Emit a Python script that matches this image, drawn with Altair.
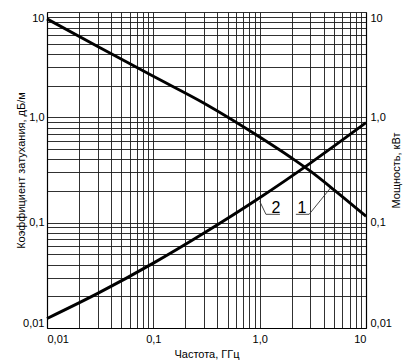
import altair as alt
import pandas as pd

# Curve "2" (rising) - attenuation coefficient, dB/m (left axis)
freq_rise = [0.01, 0.03, 0.1, 0.3, 1.0, 3.0, 10.0]
atten = [0.0123, 0.0213, 0.0413, 0.0798, 0.1725, 0.368, 0.89]

# Curve "1" (falling) - power, kW (right axis)
freq_fall = [0.01, 0.03, 0.1, 0.3, 1.0, 2.0, 3.0, 5.0, 10.0]
power = [8.6, 4.7, 2.45, 1.36, 0.65, 0.411, 0.308, 0.205, 0.115]

# leader lines for curve labels (data units)
leader_x = [1.0, 1.146, 1.55, 2.19, 2.92, 4.66]
leader_y = [0.16, 0.12, 0.12, 0.12, 0.12, 0.215]
leader_id = ["2", "2", "2", "1", "1", "1"]

label_text = ["2", "1"]
label_x = [1.42, 2.50]
label_y = [0.123, 0.123]

grid_values = [0.01, 0.02, 0.03, 0.04, 0.05, 0.06, 0.07, 0.08, 0.09,
               0.1, 0.2, 0.3, 0.4, 0.5, 0.6, 0.7, 0.8, 0.9,
               1, 2, 3, 4, 5, 6, 7, 8, 9, 10]
decade_expr = ("datum.value == 0.01 ? '0,01' : datum.value == 0.1 ? '0,1' : "
               "datum.value == 1 ? '1,0' : datum.value == 10 ? '10' : ''")

FONT = "Liberation Sans"

rise_df = pd.DataFrame({"f": freq_rise, "v": atten})
fall_df = pd.DataFrame({"f": freq_fall, "v": power})
lead_df = pd.DataFrame({"f": leader_x, "v": leader_y, "id": leader_id})
lab_df = pd.DataFrame({"f": label_x, "v": label_y, "t": label_text})

xscale = alt.Scale(type="log", domain=[0.01, 10], nice=False)
yscale = alt.Scale(type="log", domain=[0.01, 10], nice=False)

xaxis = alt.Axis(values=grid_values, labelExpr=decade_expr, labelOverlap=False,
                 grid=True, gridColor="#1a1a1a", gridWidth=0.9, gridOpacity=1,
                 ticks=False, domain=True, domainColor="black", domainWidth=1.2,
                 labelPadding=5, labelFontSize=11, labelColor="black",
                 title="Частота, ГГц", titleFontSize=11, titleFontWeight="normal",
                 titleColor="black", titlePadding=4, labelFont=FONT, titleFont=FONT)

yaxis_left = alt.Axis(values=grid_values, labelExpr=decade_expr, labelOverlap=False,
                      labelFlush=True, grid=True, gridColor="#1a1a1a", gridWidth=0.9,
                      gridOpacity=1, ticks=False, domain=True, domainColor="black",
                      domainWidth=1.2, labelPadding=3, labelFontSize=11,
                      labelColor="black", orient="left",
                      title="Коэффициент затухания, дБ/м", titleFontSize=11,
                      titleFontWeight="normal", titleColor="black",
                      titleX=-26, titleBaseline="middle",
                      labelFont=FONT, titleFont=FONT)

yaxis_right = alt.Axis(values=grid_values, labelExpr=decade_expr, labelOverlap=False,
                       labelFlush=True, grid=False, ticks=False, domain=True,
                       domainColor="black", domainWidth=1.2, labelPadding=4,
                       labelFontSize=11, labelColor="black", orient="right",
                       title="Мощность, кВт", titleFontSize=11, titleAngle=270,
                       titleFontWeight="normal", titleColor="black",
                       titleX=30, titleBaseline="middle",
                       labelFont=FONT, titleFont=FONT)

X = alt.X("f:Q", scale=xscale, axis=xaxis)
YL = alt.Y("v:Q", scale=yscale, axis=yaxis_left)
YR = alt.Y("v:Q", scale=yscale, axis=yaxis_right)

rise = alt.Chart(rise_df).mark_line(color="black", strokeWidth=2.9,
                                    interpolate="monotone").encode(x=X, y=YL)
leaders = alt.Chart(lead_df).mark_line(color="#333", strokeWidth=0.9).encode(
    x=X, y=YL, detail="id:N")
labels = alt.Chart(lab_df).mark_text(font=FONT, fontSize=16, color="black",
                                     baseline="alphabetic", align="center").encode(
    x=X, y=YL, text="t:N")

left = alt.layer(rise, leaders, labels)

fall = alt.Chart(fall_df).mark_line(color="black", strokeWidth=2.9,
                                    interpolate="monotone").encode(x=X, y=YR)

chart = alt.layer(left, fall).resolve_scale(y="independent").properties(
    width=319, height=316,
    autosize=alt.AutoSizeParams(type="none"),
    padding={"left": 47, "top": 12, "right": 42, "bottom": 32},
).configure_view(stroke="black", strokeWidth=1.2).configure(background="white")

chart.save("out.html", embed_options={"renderer": "svg", "actions": False})
